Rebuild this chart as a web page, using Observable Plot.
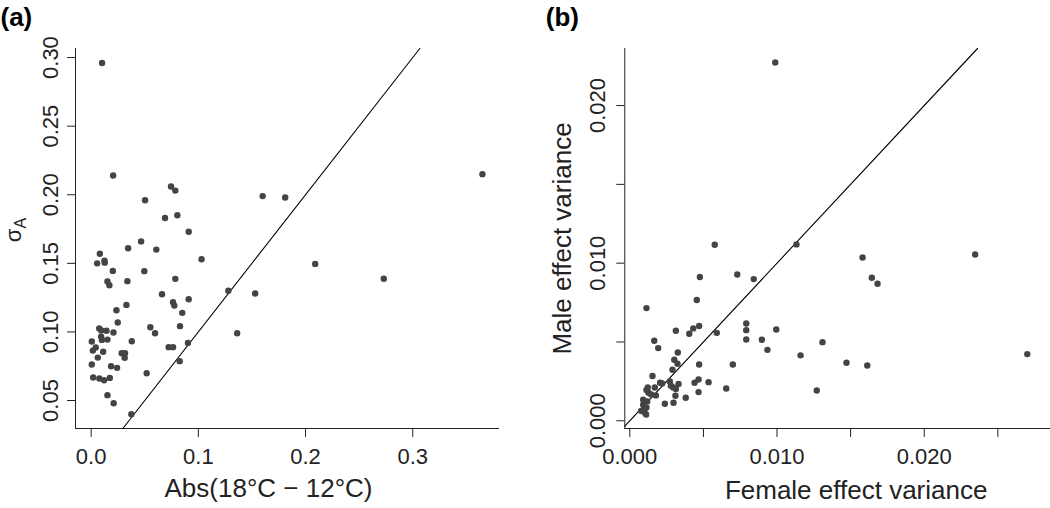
<!DOCTYPE html>
<html><head><meta charset="utf-8">
<script src="https://cdn.jsdelivr.net/npm/d3@7"></script>
<script src="https://cdn.jsdelivr.net/npm/@observablehq/plot@0.6"></script>
<style>
html,body{margin:0;padding:0;background:#fff;overflow:hidden;}
#wrap{position:relative;width:1050px;height:508px;}
#pa{position:absolute;left:0;top:0;}
#pb{position:absolute;left:520px;top:0;}
svg{max-width:none !important;}
</style></head><body><div id="wrap"><div id="pa"></div><div id="pb"></div></div>
<script>
// Panel (a): Abs(18°C − 12°C) vs sigma_A
const absTempDiff = [0.0102,0.0205,0.0745,0.0785,0.0503,0.160,0.181,0.365,0.0689,0.0804,0.091,0.0466,0.0345,0.0608,0.0081,0.103,0.0056,0.0124,0.0127,0.0202,0.0496,0.0338,0.0152,0.017,0.0785,0.128,0.0661,0.0764,0.0776,0.091,0.085,0.0329,0.0236,0.0248,0.0829,0.0552,0.0596,0.1362,0.0075,0.0095,0.0143,0.0208,0.0006,0.0093,0.01,0.0152,0.0379,0.0043,0.0016,0.0112,0.0062,0.0285,0.0316,0.0313,0.0723,0.0764,0.0903,0.0006,0.0186,0.0242,0.0826,0.0518,0.0019,0.0077,0.0121,0.0174,0.0152,0.021,0.0375,0.209,0.273,0.153];
const sigmaA = [0.296,0.214,0.206,0.203,0.196,0.199,0.198,0.215,0.183,0.185,0.173,0.166,0.161,0.160,0.157,0.153,0.150,0.152,0.1505,0.1445,0.1443,0.137,0.1368,0.134,0.1387,0.130,0.1275,0.1216,0.1192,0.1238,0.1139,0.1197,0.1158,0.1069,0.1042,0.1034,0.099,0.099,0.1025,0.101,0.1008,0.0996,0.093,0.0966,0.0942,0.0944,0.0932,0.0886,0.0864,0.0855,0.0813,0.0845,0.0845,0.0811,0.0889,0.0889,0.092,0.0762,0.075,0.0738,0.0787,0.0699,0.0668,0.066,0.0648,0.0665,0.0539,0.048,0.040,0.1496,0.1388,0.128];

// Panel (b): female vs male effect variance
const femaleVar = [0.00988,0.00577,0.01132,0.01581,0.02346,0.0073,0.00476,0.00842,0.01644,0.01683,0.00455,0.00113,0.00791,0.00791,0.00791,0.00995,0.00591,0.00471,0.00431,0.00404,0.00313,0.00897,0.00935,0.01309,0.0116,0.01472,0.01613,0.027,0.00166,0.00193,0.00326,0.00302,0.00324,0.0029,0.00471,0.007,0.00154,0.00206,0.00272,0.00279,0.00295,0.00331,0.00313,0.0031,0.00467,0.0044,0.00535,0.00655,0.0127,0.00467,0.0038,0.00238,0.00297,0.0017,0.00122,0.00127,0.00177,0.00113,0.00145,0.00091,0.00118,0.00091,0.00113,0.00077,0.001,0.00111,0.00098,0.0022];
const maleVar = [0.02273,0.01117,0.01119,0.01036,0.01055,0.00928,0.00912,0.00899,0.00907,0.00869,0.00766,0.00715,0.00617,0.00575,0.00516,0.00579,0.00558,0.00601,0.00586,0.00552,0.00571,0.00514,0.0045,0.00499,0.00415,0.00368,0.00351,0.00423,0.00508,0.00461,0.00433,0.00387,0.00362,0.00324,0.00357,0.00357,0.00284,0.00241,0.00249,0.00222,0.00211,0.00233,0.00201,0.00159,0.00262,0.00241,0.00245,0.00205,0.00192,0.00182,0.00146,0.00108,0.00114,0.00211,0.00211,0.00178,0.00161,0.00195,0.00167,0.00133,0.00123,0.00102,0.00084,0.00063,0.00053,0.0004,0.00075,0.00237];

const ticksAX = [0, 0.1, 0.2, 0.3];
const ticksAY = [0.05, 0.10, 0.15, 0.20, 0.25, 0.30];
const ticksBX = [0, 0.005, 0.010, 0.015, 0.020, 0.025];
const ticksBY = [0, 0.005, 0.010, 0.015, 0.020];
const labelsB = [0, 0.010, 0.020];

const xTitleA = "Abs(18°C \u2212 12°C)";
const xTitleB = "Female effect variance";
const yTitleB = "Male effect variance";

const FONT = "'Liberation Sans', Arial, Helvetica, sans-serif";
const INK = "#222";
const DOT = "#444";

const domAX = [-0.0146, 0.380], domAY = [0.0296, 0.3066];
const domBX = [-0.00034, 0.02851], domBY = [-0.00049, 0.02362];
const diag = (dx, dy) => { const lo = Math.max(dx[0], dy[0]), hi = Math.min(dx[1], dy[1]); return [[lo, lo], [hi, hi]]; };

const dataA = absTempDiff.map((x, i) => ({x, y: sigmaA[i]}));
const dataB = femaleVar.map((x, i) => ({x, y: maleVar[i]}));

const fmtB = d => labelsB.some(v => Math.abs(v - d) < 1e-9) ? d3.format(".3f")(d) : "";

const plotA = Plot.plot({
  width: 525, height: 508,
  marginLeft: 75, marginRight: 27, marginTop: 48, marginBottom: 80,
  style: {fontFamily: FONT, fontSize: "22px", color: INK, background: "white", overflow: "visible"},
  x: {domain: domAX, ticks: ticksAX, tickFormat: d3.format(".1f"), tickSize: 9, tickPadding: 11, line: true, label: null},
  y: {domain: domAY, ticks: ticksAY, tickFormat: () => "", tickSize: 8, line: true, label: null},
  marks: [
    Plot.line(diag(domAX, domAY), {x: d => d[0], y: d => d[1], stroke: "#000", strokeWidth: 1.1}),
    Plot.dot(dataA, {x: "x", y: "y", r: 3.2, fill: DOT, stroke: "none"}),
    Plot.text(ticksAY, {y: d => d, text: d => d3.format(".2f")(d), frameAnchor: "left", textAnchor: "middle", rotate: -90, dx: -25, fontSize: 22, fill: INK}),
    Plot.text([xTitleA], {text: d => d, frameAnchor: "bottom", textAnchor: "middle", dy: 68, dx: -18.5, fontSize: 26, fill: INK}),
    Plot.text(["(a)"], {text: d => d, frameAnchor: "top-left", textAnchor: "start", dx: -75, dy: -41, fontSize: 26, fontWeight: "bold", fill: "#000"})
  ]
});

const plotB = Plot.plot({
  width: 530, height: 508,
  marginLeft: 104.3, marginRight: 1, marginTop: 48, marginBottom: 80,
  style: {fontFamily: FONT, fontSize: "22px", color: INK, background: "white", overflow: "visible"},
  x: {domain: domBX, ticks: ticksBX, tickFormat: fmtB, tickSize: 9, tickPadding: 11, line: true, label: null},
  y: {domain: domBY, ticks: ticksBY, tickFormat: () => "", tickSize: 8, line: true, label: null},
  marks: [
    Plot.line(diag(domBX, domBY), {x: d => d[0], y: d => d[1], stroke: "#000", strokeWidth: 1.1}),
    Plot.dot(dataB, {x: "x", y: "y", r: 3.2, fill: DOT, stroke: "none"}),
    Plot.text(labelsB, {y: d => d, text: d => d3.format(".3f")(d), frameAnchor: "left", textAnchor: "middle", rotate: -90, dx: -27, fontSize: 22, fill: INK}),
    Plot.text([xTitleB], {text: d => d, frameAnchor: "bottom", textAnchor: "middle", dy: 70, dx: 19, fontSize: 26, fill: INK}),
    Plot.text([yTitleB], {text: d => d, frameAnchor: "left", textAnchor: "middle", rotate: -90, dx: -62, fontSize: 26, fill: INK}),
    Plot.text(["(b)"], {text: d => d, frameAnchor: "top-left", textAnchor: "start", dx: -79, dy: -41, fontSize: 26, fontWeight: "bold", fill: "#000"})
  ]
});

document.getElementById("pa").appendChild(plotA);
document.getElementById("pb").appendChild(plotB);

// sigma_A axis title with subscript
const t = d3.select(plotA).append("text")
  .attr("transform", "translate(21,230) rotate(-90)")
  .attr("text-anchor", "middle")
  .attr("font-family", FONT).attr("fill", INK);
t.append("tspan").attr("font-size", 22).text("σ");
t.append("tspan").attr("font-size", 16).attr("dy", "0.3em").text("A");
</script></body></html>
